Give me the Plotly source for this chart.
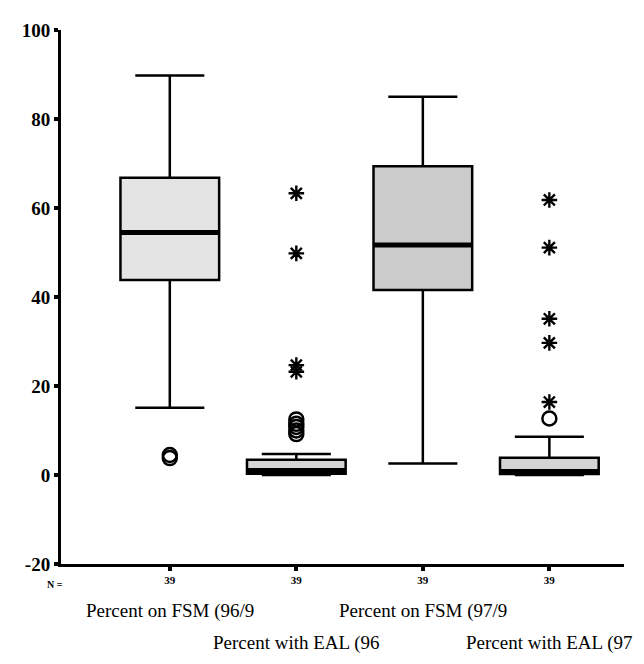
import plotly.graph_objects as go

# ---- data ----
categories = ["Percent on FSM (96/9", "Percent with EAL (96",
              "Percent on FSM (97/9", "Percent with EAL (97"]
n_counts = ["39", "39", "39", "39"]
q1 = [43.8, 0.3, 41.6, 0.2]
median = [54.5, 1.0, 51.7, 0.8]
q3 = [66.8, 3.4, 69.4, 3.9]
lowerfence = [15.1, 0.0, 2.6, 0.0]
upperfence = [89.8, 4.7, 85.0, 8.6]
circle_outliers = [[4.5, 3.8], [12.5, 11.5, 10.8, 10.0, 9.2], [], [12.7]]
extreme_outliers = [[], [63.3, 49.8, 24.7, 23.2], [], [61.8, 51.1, 35.1, 29.7, 16.4]]
y_ticks = [-20, 0, 20, 40, 60, 80, 100]

# ---- styling ----
box_fill = ['#e4e4e4', '#d4d4d4', '#cbcbcb', '#d4d4d4']
BOX_W = 0.78
SERIF = "Liberation Serif, Times New Roman, serif"

fig = go.Figure()
positions = list(range(len(categories)))

for i in positions:
    fig.add_trace(go.Box(
        x=[i], q1=[q1[i]], median=[median[i]], q3=[q3[i]],
        lowerfence=[lowerfence[i]], upperfence=[upperfence[i]],
        width=BOX_W, whiskerwidth=0.7,
        fillcolor=box_fill[i], line=dict(color='black', width=2.5),
        boxpoints=False, showlegend=False, hoverinfo='skip'))

# thick median bars
mx, my = [], []
for i in positions:
    mx += [i - BOX_W / 2, i + BOX_W / 2, None]
    my += [median[i], median[i], None]
fig.add_trace(go.Scatter(x=mx, y=my, mode='lines',
                         line=dict(color='black', width=5),
                         showlegend=False, hoverinfo='skip'))

# outliers (circles) and extremes (asterisks)
cx, cy, ex, ey = [], [], [], []
for i in positions:
    cx += [i] * len(circle_outliers[i]); cy += circle_outliers[i]
    ex += [i] * len(extreme_outliers[i]); ey += extreme_outliers[i]
fig.add_trace(go.Scatter(x=cx, y=cy, mode='markers',
                         marker=dict(symbol='circle-open', size=14, color='black',
                                     line=dict(width=2.5, color='black')),
                         showlegend=False, hoverinfo='skip'))
fig.add_trace(go.Scatter(x=ex, y=ey, mode='markers',
                         marker=dict(symbol='asterisk-open', size=13, color='black',
                                     line=dict(width=2.4, color='black')),
                         showlegend=False, hoverinfo='skip'))

# category labels in two staggered rows, plus "N ="
for i, name in enumerate(categories):
    fig.add_annotation(x=i, xref='x', y=0, yref='paper',
                       yshift=-47 if i % 2 == 0 else -79,
                       text=name, showarrow=False,
                       font=dict(family=SERIF, size=19, color='black'),
                       xanchor='center', yanchor='middle')
fig.add_annotation(x=0, xref='paper', xanchor='center', xshift=-6,
                   y=0, yref='paper', yanchor='middle', yshift=-20,
                   text="<b>N =</b>", showarrow=False,
                   font=dict(family=SERIF, size=10, color='black'))

fig.update_layout(
    width=644, height=664,
    margin=dict(l=53, r=28, t=12, b=108),
    plot_bgcolor='white', paper_bgcolor='white',
    boxmode='overlay', showlegend=False,
)
fig.update_xaxes(
    range=[-0.86, 3.59], tickmode='array', tickvals=positions,
    ticktext=["<b>%s</b>" % n for n in n_counts],
    tickfont=dict(family=SERIF, size=11, color='black'),
    showline=True, linecolor='black', linewidth=3,
    ticks='outside', ticklen=4, tickwidth=4, tickcolor='black',
    showgrid=False, zeroline=False)
fig.update_yaxes(
    range=[-20, 100], tickmode='array', tickvals=y_ticks,
    ticktext=["<b>%d</b>" % v for v in y_ticks],
    tickfont=dict(family=SERIF, size=19, color='black'),
    showline=True, linecolor='black', linewidth=3,
    ticks='outside', ticklen=4, tickwidth=4, tickcolor='black',
    showgrid=False, zeroline=False)

fig.write_html("out.html")
